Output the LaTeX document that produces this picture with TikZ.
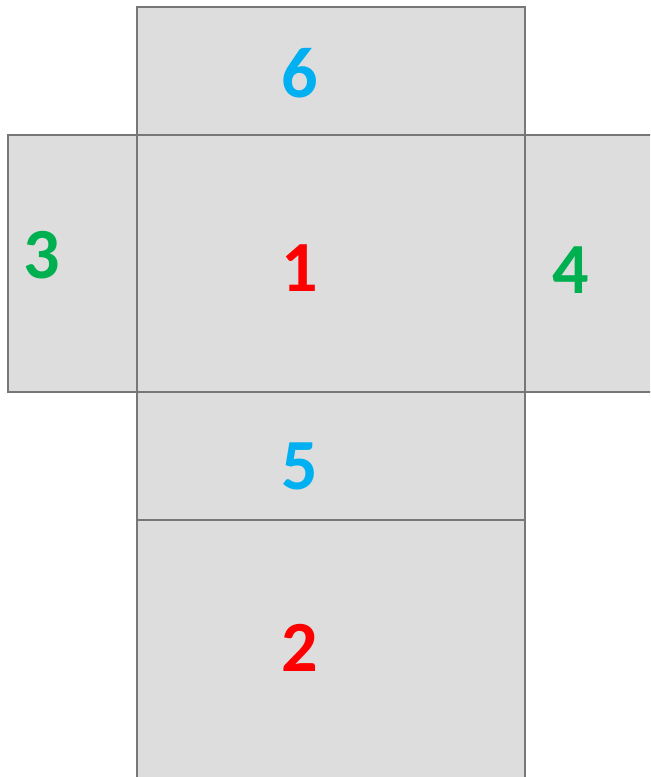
\documentclass[tikz,border=0pt]{standalone}
\usepackage{fontspec}
\setmainfont{Carlito}
\definecolor{facegray}{HTML}{DDDDDD}
\definecolor{edgegray}{HTML}{777777}
\definecolor{numred}{HTML}{FF0000}
\definecolor{numblue}{HTML}{00B0F0}
\definecolor{numgreen}{HTML}{00B050}
\tikzset{
  face/.style={fill=facegray, draw=edgegray, line width=1.1pt},
  num/.style={font=\fontsize{41}{41}\selectfont\bfseries, inner sep=0pt}
}
\begin{document}
\begin{tikzpicture}[x=0.02cm, y=-0.02cm]
    \useasboundingbox (0, 0) rectangle (650, 777);
    \clip (0, 0) rectangle (650, 777);

    % Facce dello sviluppo
    \draw[face] (137, 7) rectangle (525, 135);
    \draw[face] (8, 135) rectangle (137, 392);
    \draw[face] (525, 135) rectangle (670, 392);
    \draw[face] (137, 135) rectangle (525, 392);
    \draw[face] (137, 392) rectangle (525, 520);
    \draw[face] (137, 520) rectangle (525, 800);

    % Numeri delle facce
    \node[num, color=numblue] (n6) at (300, 73) {6};
    \node[num, color=numgreen] (n3) at (42, 255) {3};
    \node[num, color=numred] (n1) at (300, 268) {1};
    \node[num, color=numgreen] (n4) at (571, 270) {4};
    \node[num, color=numblue] (n5) at (300, 466) {5};
    \node[num, color=numred] (n2) at (300, 648) {2};
\end{tikzpicture}
\end{document}
